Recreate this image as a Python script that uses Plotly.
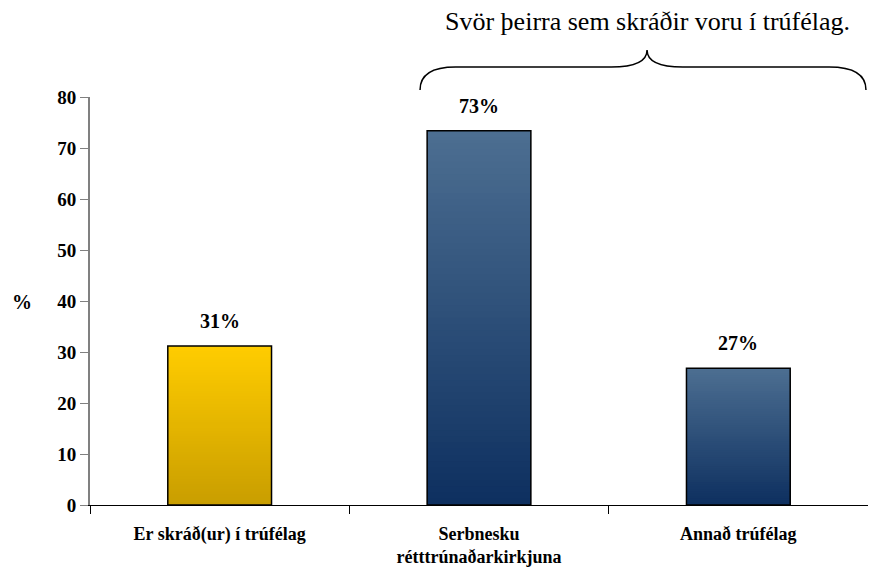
import plotly.graph_objects as go

categories = ["Er skráð(ur) í trúfélag", "Serbnesku<br>rétttrúnaðarkirkjuna", "Annað trúfélag"]
values = [31.2, 73.4, 26.8]
value_labels = ["31%", "73%", "27%"]
y_ticks = [0, 10, 20, 30, 40, 50, 60, 70, 80]

top_colors = [(255, 204, 0), (76, 110, 145), (76, 110, 145)]
bottom_colors = [(201, 158, 0), (14, 48, 96), (14, 48, 96)]

FONT = "Liberation Serif"
N = 60

fig = go.Figure()

def mix(a, b, t):
    return "rgb(%d,%d,%d)" % tuple(round(a[i] + (b[i] - a[i]) * t) for i in range(3))

# gradient by overlaying progressively shorter bars (top colour -> bottom colour)
for k in range(N):
    frac = (N - k) / N
    t = k / (N - 1)
    fig.add_trace(go.Bar(
        x=categories, y=[v * frac for v in values],
        marker=dict(color=[mix(top_colors[i], bottom_colors[i], t) for i in range(3)],
                    line=dict(width=0)),
        width=0.4, showlegend=False, hoverinfo="skip"))

# outline
fig.add_trace(go.Bar(
    x=categories, y=values, width=0.4,
    marker=dict(color="rgba(0,0,0,0)", line=dict(color="black", width=1.5)),
    showlegend=False))

for c, v, lab in zip(categories, values, value_labels):
    fig.add_annotation(x=c, y=v, text="<b>%s</b>" % lab, showarrow=False, yanchor="bottom",
                       xanchor="center", yshift=12, font=dict(family=FONT, size=20, color="black"))

fig.add_annotation(xref="paper", yref="paper", x=-0.087, y=0.4975, text="<b>%</b>",
                   xanchor="center", yanchor="middle",
                   showarrow=False, font=dict(family=FONT, size=20, color="black"))

fig.add_annotation(xref="paper", yref="paper", x=0.716, y=1.184, text="Svör þeirra sem skráðir voru í trúfélag.",
                   showarrow=False, yanchor="middle", xanchor="center",
                   font=dict(family=FONT, size=26, color="black"))

brace = ("M 0.4242,1.0172 Q 0.4242,1.0735 0.47,1.0735 L 0.67,1.0735 "
         "Q 0.716,1.0735 0.716,1.1152 Q 0.716,1.0735 0.762,1.0735 "
         "L 0.95,1.0735 Q 0.9974,1.0735 0.9974,1.0172")
fig.add_shape(type="path", xref="paper", yref="paper", path=brace,
              line=dict(color="black", width=1.5))

fig.update_layout(
    barmode="overlay", bargap=0.6,
    width=868, height=570,
    margin=dict(l=82, r=8, t=89, b=73),
    plot_bgcolor="white", paper_bgcolor="white",
    font=dict(family=FONT, color="black"),
)
fig.update_xaxes(
    showline=True, linecolor="black", linewidth=1,
    ticks="outside", tickson="boundaries", ticklen=8, tickcolor="black",
    ticklabelstandoff=12,
    tickfont=dict(family=FONT, size=18, color="black", weight="bold"),
    showgrid=False, zeroline=False,
)
fig.update_yaxes(
    range=[0, 80], tickvals=y_ticks, showline=True, linecolor="gray", linewidth=2,
    ticks="outside", ticklen=8, tickcolor="gray",
    tickfont=dict(family=FONT, size=19, color="black", weight="bold"),
    showgrid=False, zeroline=False,
)

fig.write_html("out.html")
